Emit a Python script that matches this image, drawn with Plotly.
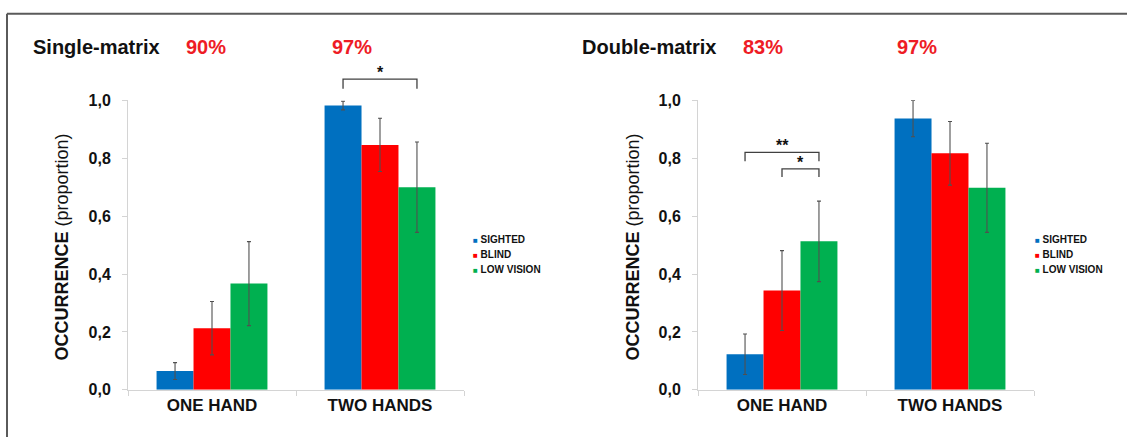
import plotly.graph_objects as go

W, H = 1127, 446

categories = ["ONE HAND", "TWO HANDS"]
groups = ["SIGHTED", "BLIND", "LOW VISION"]
colors = ["#0070C0", "#FF0000", "#00B050"]

# Single-matrix panel (rows = groups, columns = categories)
single_vals = [[0.065, 0.982], [0.213, 0.846], [0.367, 0.700]]
single_err = [[0.029, 0.015], [0.092, 0.092], [0.145, 0.156]]
# Double-matrix panel
double_vals = [[0.123, 0.937], [0.343, 0.817], [0.513, 0.698]]
double_err = [[0.070, 0.063], [0.138, 0.110], [0.139, 0.154]]

panel_titles = ["Single-matrix", "Double-matrix"]
single_pcts = ["90%", "97%"]
double_pcts = ["83%", "97%"]

FONT = "Liberation Sans"
BARGAP = 0.34
BW = (1 - BARGAP) / 3

fig = go.Figure()

panels = [
    ("x", "y", single_vals, single_err),
    ("x2", "y2", double_vals, double_err),
]
for xa, ya, vals, errs in panels:
    for g, name in enumerate(groups):
        fig.add_trace(go.Bar(
            x=categories, y=vals[g], name=name,
            marker=dict(color=colors[g], line=dict(width=0)),
            error_y=dict(type="data", array=errs[g], visible=True,
                         color="#505050", thickness=1.1, width=2),
            xaxis=xa, yaxis=ya, showlegend=False,
        ))

# pixel geometry
def px_x(p):
    return p / W

def px_y(p):
    return 1 - p / H

xdom1 = [px_x(128), px_x(464)]
xdom2 = [px_x(698), px_x(1034)]
ydom = [px_y(397), px_y(96)]

axis_common = dict(showline=True, linecolor="#d4d4d4", linewidth=1,
                   ticks="outside", tickcolor="#d4d4d4", ticklen=5,
                   showgrid=False, zeroline=False)
xax = dict(type="category", tickson="boundaries",
           tickfont=dict(family=FONT, size=17, color="#111", weight="bold"),
           **axis_common)
yax = dict(range=[0, 1.0], tickvals=[0, 0.2, 0.4, 0.6, 0.8, 1.0],
           tickformat=".1f", ticklabelstandoff=8,
           tickfont=dict(family=FONT, size=16, color="#111", weight="bold"),
           **axis_common)

fig.update_layout(
    width=W, height=H,
    margin=dict(l=0, r=0, t=0, b=0),
    paper_bgcolor="white", plot_bgcolor="white",
    separators=",.",
    barmode="group", bargap=BARGAP, bargroupgap=0,
    xaxis=dict(domain=xdom1, anchor="y", **xax),
    yaxis=dict(domain=ydom, anchor="x", **yax),
    xaxis2=dict(domain=xdom2, anchor="y2", **xax),
    yaxis2=dict(domain=ydom, anchor="x2", **yax),
)

ann = []
shapes = []

# frame lines (top and left)
shapes.append(dict(type="line", xref="paper", yref="paper", x0=px_x(7), x1=1,
                   y0=px_y(6), y1=px_y(6), line=dict(color="#5a5a5a", width=2)))
shapes.append(dict(type="line", xref="paper", yref="paper", x0=px_x(7), x1=px_x(7),
                   y0=0, y1=px_y(6), line=dict(color="#5a5a5a", width=2)))

# titles
title_pos = [(31, [206, 352]), (580, [763, 917])]
for (tx, pxs), title, pcts in zip(title_pos, panel_titles, [single_pcts, double_pcts]):
    ann.append(dict(text=title, xref="paper", yref="paper", x=px_x(tx), y=px_y(41),
                    xanchor="left", yanchor="middle", showarrow=False,
                    font=dict(family=FONT, size=20, color="#111", weight="bold")))
    for p, t in zip(pxs, pcts):
        ann.append(dict(text=t, xref="paper", yref="paper", x=px_x(p), y=px_y(41),
                        xanchor="center", yanchor="middle", showarrow=False,
                        font=dict(family=FONT, size=20, color="#EE1C25", weight="bold")))

# y-axis titles
for cx in [62, 633]:
    ann.append(dict(text="OCCURRENCE <span style='font-weight:normal'>(proportion)</span>",
                    xref="paper", yref="paper",
                    x=px_x(cx), y=px_y(249), textangle=-90, showarrow=False,
                    xanchor="center", yanchor="middle",
                    font=dict(family=FONT, size=18, color="#111", weight="bold")))

# legends (manual, compact swatches)
for lx in [471, 1033]:
    for g, name in enumerate(groups):
        ann.append(dict(
            text=f'<span style="color:{colors[g]};font-size:8px">■</span> {name}',
            xref="paper", yref="paper", x=px_x(lx), y=px_y(241 + 15.5 * g),
            xanchor="left", yanchor="middle", showarrow=False,
            font=dict(family=FONT, size=10, color="#111", weight="bold")))

# significance brackets
def bar_frac(cat, g):
    center = cat + (g - 1) * BW
    return (center + 0.5) / 2.0

brackets = [
    ("x domain", "y domain", 1, 0, 2, 1.073, 1.040, "*"),
    ("x2 domain", "y2 domain", 0, 0, 2, 0.820, 0.790, "**"),
    ("x2 domain", "y2 domain", 0, 1, 2, 0.763, 0.735, "*"),
]
for xr, yr, cat, g0, g1, top, bot, label in brackets:
    xa_, xb_ = bar_frac(cat, g0), bar_frac(cat, g1)
    path = f"M{xa_},{bot} L{xa_},{top} L{xb_},{top} L{xb_},{bot}"
    shapes.append(dict(type="path", xref=xr, yref=yr, path=path,
                       line=dict(color="#404040", width=1.3)))
    ann.append(dict(text=label, xref=xr, yref=yr, x=(xa_ + xb_) / 2, y=top,
                    xanchor="center", yanchor="bottom", showarrow=False, yshift=-4,
                    font=dict(family=FONT, size=16, color="#111", weight="bold")))

fig.update_layout(annotations=ann, shapes=shapes)
post = ("var d=document.getElementById('{plot_id}');"
        "d.style.position='fixed';d.style.top='0px';d.style.left='0px';"
        "document.body.style.margin='0';"
        "document.documentElement.style.overflow='hidden';"
        "document.body.style.overflow='hidden';")
fig.write_html("out.html", config={"displayModeBar": False}, post_script=post)
